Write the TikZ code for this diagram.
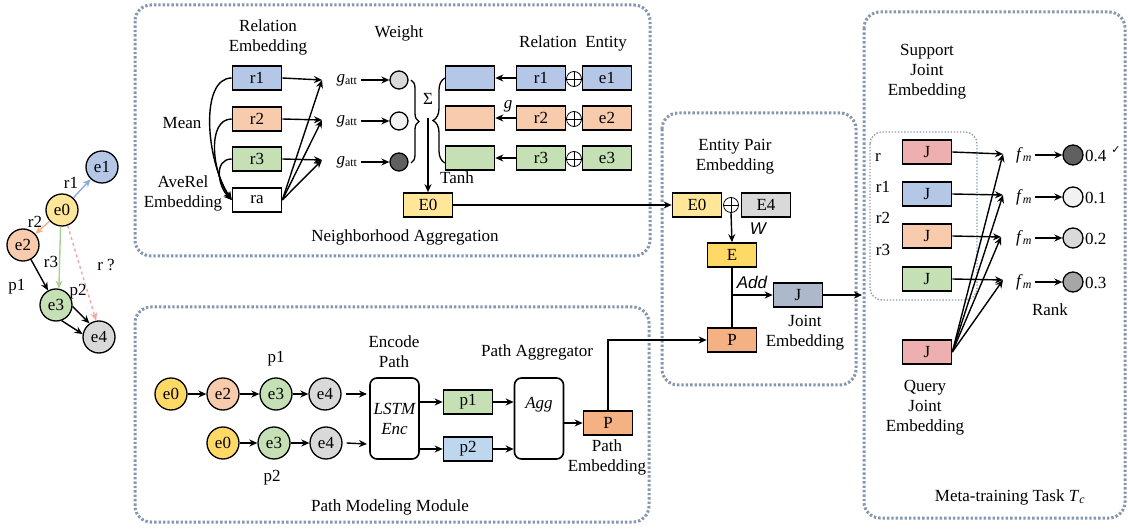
\documentclass[tikz,border=0pt]{standalone}
\usepackage{fontspec}
\setmainfont{Liberation Serif}
\newfontfamily\sansfam{Liberation Sans}
\newfontfamily\dejavu{DejaVu Sans}
\usetikzlibrary{arrows.meta,decorations.pathreplacing,calc}
\definecolor{dotc}{HTML}{8497B0}
\definecolor{cblue}{HTML}{B4C7E7}
\definecolor{corange}{HTML}{F8CBAD}
\definecolor{cgreen}{HTML}{C5E0B4}
\definecolor{cyellow}{HTML}{FFE699}
\definecolor{cgold}{HTML}{FFD966}
\definecolor{cgray}{HTML}{D9D9D9}
\definecolor{cpath}{HTML}{F4B183}
\definecolor{cjoint}{HTML}{ADB9CA}
\definecolor{cpink}{HTML}{EDAFAF}
\definecolor{cpblue}{HTML}{BDD7EE}
\definecolor{adark}{HTML}{606060}
\definecolor{amid}{HTML}{A6A6A6}
\definecolor{alight}{HTML}{F2F2F2}
\definecolor{lblue}{HTML}{8FAADC}
\definecolor{lorange}{HTML}{F4B183}
\definecolor{lgreen}{HTML}{A9D18E}
\definecolor{lpink}{HTML}{F4A6A6}
\newcommand{\gatt}{\textit{g}\textsubscript{att}}
\newcommand{\fmm}{\textit{f}\textsubscript{\textit{m}}}
\begin{document}
\begin{tikzpicture}[x=1pt,y=-1pt,
  every node/.style={font=\fontsize{17}{20}\selectfont},
  box/.style={draw, line width=1.6pt, minimum width=49pt, minimum height=24pt, inner sep=0pt},
  ent/.style={circle, draw, line width=1.3pt, minimum size=32pt, inner sep=0pt},
  wt/.style={circle, draw, line width=1.3pt, minimum size=18pt, inner sep=0pt},
  rk/.style={circle, draw, line width=1.3pt, minimum size=20pt, inner sep=0pt},
  rbox/.style={draw, line width=1.6pt, rounded corners=7pt, minimum width=49pt, minimum height=81pt, inner sep=0pt, align=center},
  arr/.style={-{Stealth[length=8pt,width=7pt]}, line width=1.4pt},
  region/.style={draw=dotc, line width=3pt, dash pattern=on 2.4pt off 2pt, rounded corners=16pt},
  txt/.style={align=center, inner sep=0pt},
  osym/.style={circle, draw, line width=0.8pt, minimum size=15pt, inner sep=0pt,
    path picture={\draw[line width=0.8pt] (path picture bounding box.north) -- (path picture bounding box.south)
      (path picture bounding box.west) -- (path picture bounding box.east);}},
  itsans/.style={inner sep=0pt, font=\fontsize{17}{20}\selectfont\sansfam\itshape},
]
\useasboundingbox (0,0) rectangle (1128,529);

% regions
\draw[region] (135,5) rectangle (650,256);
\draw[region] (135,307) rectangle (649,522);
\draw[region] (662,113) rectangle (856,385);
\draw[region] (864,12) rectangle (1125,518);
\draw[dotc, line width=1.4pt, dash pattern=on 1.3pt off 1.8pt, rounded corners=12pt] (870,132) rectangle (977,300);

% left graph
\node[ent, fill=cyellow] (g0) at (62,210) {e0};
\node[ent, fill=cblue] (g1) at (102,167) {e1};
\node[ent, fill=corange] (g2) at (23,245) {e2};
\node[ent, fill=cgreen] (g3) at (56,305) {e3};
\node[ent, fill=cgray] (g4) at (99,337) {e4};
\draw[arr, lblue] (g0) -- (g1);
\draw[arr, lorange] (g0) -- (g2);
\draw[arr, lgreen] (g0.265) -- (g3.80);
\draw[arr, lpink, dashed] (g0.-70) -- (g4.100);
\draw[arr] (g2) -- (g3);
\draw[arr] (g3.-5) -- (g4.125);
\draw[arr] (g3.-70) -- (g4.170);
\node[txt] (lr1) at (71,183) {r1};
\node[txt] (lr2) at (35,222) {r2};
\node[txt] (lr3) at (51,262) {r3};
\node[txt] (lp1) at (17,287) {p1};
\node[txt] (lp2) at (78,292) {p2};
\node[txt] (lrq) at (106,265) {r ?};

% neighborhood aggregation
\node[txt] (relemb) at (268,37) {Relation\\Embedding};
\node[box, fill=cblue] (r1) at (257,78) {r1};
\node[box, fill=corange] (r2) at (257,119) {r2};
\node[box, fill=cgreen] (r3) at (257,159) {r3};
\node[box, fill=white] (ra) at (257,200) {ra};
\node[txt] (mean) at (182,123) {Mean};
\node[txt] (avr) at (183,193) {AveRel\\Embedding};
\draw[arr] (r1.west) .. controls +(-32,0) and +(-26,-40) .. (ra.west);
\draw[arr] (r2.west) .. controls +(-25,0) and +(-20,-28) .. (ra.west);
\draw[arr] (r3.west) .. controls +(-18,0) and +(-14,-14) .. (ra.west);
\coordinate (t1) at (322,80);
\coordinate (t2) at (322,120);
\coordinate (t3) at (322,160);
\draw[arr] (r1.east) -- (t1);
\draw[arr] (r2.east) -- (t2);
\draw[arr] (r3.east) -- (t3);
\draw[arr] (ra.east) -- (t1);
\draw[arr] (ra.east) -- (t2);
\draw[arr] (ra.east) -- (t3);
\node (ga1) at (347,80) {\gatt};
\node (ga2) at (347,121) {\gatt};
\node (ga3) at (347,162) {\gatt};
\node[wt, fill=cgray] (w1) at (399,80) {};
\node[wt, fill=alight] (w2) at (399,121) {};
\node[wt, fill=adark] (w3) at (399,162) {};
\draw[arr] (ga1) -- (w1);
\draw[arr] (ga2) -- (w2);
\draw[arr] (ga3) -- (w3);
\node[txt] (weight) at (399,33) {Weight};
\draw[line width=1.3pt, decorate, decoration={brace, amplitude=8pt}] (411,80) -- (411,163);
\draw[line width=1.3pt, decorate, decoration={brace, amplitude=12pt}] (445,163) -- (445,78);
\node[txt] (sig) at (428,99) {Σ};
\coordinate (bt) at (428,118);
\node[box, fill=cyellow] (E0) at (428,205) {E0};
\draw[arr] (bt) -- (E0);
\node[txt] (tanh) at (457,178) {Tanh};
\node[box, fill=cblue] (c1) at (470,78) {};
\node[box, fill=corange] (c2) at (470,118) {};
\node[box, fill=cgreen] (c3) at (470,158) {};
\node[box, fill=cblue] (rr1) at (541,78) {r1};
\node[box, fill=corange] (rr2) at (541,118) {r2};
\node[box, fill=cgreen] (rr3) at (541,158) {r3};
\node[osym] (o1) at (574,79) {};
\node[osym] (o2) at (574,119) {};
\node[osym] (o3) at (574,159) {};
\node[box, fill=cblue] (ee1) at (607,78) {e1};
\node[box, fill=corange] (ee2) at (607,118) {e2};
\node[box, fill=cgreen] (ee3) at (607,158) {e3};
\draw[arr] (rr1) -- (c1);
\draw[arr] (rr2) -- (c2);
\draw[arr] (rr3) -- (c3);
\node[txt] (gg) at (508,106) {\textit{g}};
\node[txt] (relent) at (573,43) {Relation\ \ Entity};
\node[txt] (nagg) at (405,237) {Neighborhood Aggregation};

% entity pair
\node[txt] (eptitle) at (735,157) {Entity Pair\\Embedding};
\node[box, fill=cyellow] (pe0) at (697,205) {E0};
\node[osym] (po) at (731,205) {};
\node[box, fill=cgray] (pe4) at (766,205) {E4};
\draw[arr] (E0) -- (pe0);
\node[itsans] (wl) at (758,229) {W};
\node[box, fill=cgold] (EE) at (732,255) {E};
\draw[arr] (po.south) -- (EE.north);
\node[box, fill=cpath] (PP) at (732,340) {P};
\draw[line width=1.4pt] (EE.south) -- (PP.north);
\coordinate (br) at (732,295);
\node[box, fill=cjoint] (JJ) at (798,295) {J};
\draw[arr] (br) -- (JJ.west);
\coordinate (jout) at (862,295);
\draw[arr] (JJ.east) -- (jout);
\node[itsans] (add) at (752,282) {Add};
\node[txt] (jemb) at (805,333) {Joint\\Embedding};

% path modeling
\node[ent, fill=cgold] (a0) at (171,394) {e0};
\node[ent, fill=corange] (a2) at (223,394) {e2};
\node[ent, fill=cgreen] (a3) at (276,394) {e3};
\node[ent, fill=cgray] (a4) at (325,394) {e4};
\node[ent, fill=cgold] (b0) at (223,443) {e0};
\node[ent, fill=cgreen] (b3) at (274,443) {e3};
\node[ent, fill=cgray] (b4) at (326,443) {e4};
\draw[arr] (a0) -- (a2);
\draw[arr] (a2) -- (a3);
\draw[arr] (a3) -- (a4);
\draw[arr] (b0) -- (b3);
\draw[arr] (b3) -- (b4);
\node[txt] (pl1) at (276,359) {p1};
\node[txt] (pl2) at (272,478) {p2};
\node[rbox] (lstm) at (394.5,418.5) {\itshape LSTM\\\itshape Enc};
\node[txt] (encp) at (394,352) {Encode\\Path};
\coordinate (li1) at (367,394);
\coordinate (li2) at (367,444);
\draw[arr] ([xshift=4pt]a4.east) -- (li1);
\draw[arr] ([xshift=4pt]b4.east) -- (li2);
\node[box, fill=cgreen] (pp1) at (468,402) {p1};
\node[box, fill=cpblue] (pp2) at (468,449) {p2};
\draw[arr] (lstm.east |- pp1) -- (pp1);
\draw[arr] (lstm.east |- pp2) -- (pp2);
\node[rbox] (agg) at (539,418.5) {\itshape Agg\\[12pt]};
\draw[arr] (pp1) -- (pp1 -| agg.west);
\draw[arr] (pp2) -- (pp2 -| agg.west);
\node[txt] (pagg) at (537,352) {Path Aggregator};
\node[box, fill=cpath] (pathP) at (608,423) {P};
\draw[arr] (agg.east |- pathP) -- (pathP);
\node[txt] (pemb) at (607,457) {Path\\Embedding};
\draw[arr] (pathP.north) |- (PP.west);
\node[txt] (pmm) at (390,507) {Path Modeling Module};

% meta-training
\node[txt] (supp) at (927,72) {Support\\Joint\\Embedding};
\node[box, fill=cpink] (s1) at (927,152) {J};
\node[box, fill=cblue] (s2) at (927,194) {J};
\node[box, fill=corange] (s3) at (927,236) {J};
\node[box, fill=cgreen] (s4) at (927,279) {J};
\node[box, fill=cpink] (q) at (927,352) {J};
\node[txt] (sr) at (878,157) {r};
\node[txt] (sr1) at (883,187) {r1};
\node[txt] (sr2) at (883,218) {r2};
\node[txt] (sr3) at (883,250) {r3};
\coordinate (m1) at (1003,154);
\coordinate (m2) at (1003,195);
\coordinate (m3) at (1001,237);
\coordinate (m4) at (1003,280);
\draw[arr] (s1.east) -- (m1);
\draw[arr] (s2.east) -- (m2);
\draw[arr] (s3.east) -- (m3);
\draw[arr] (s4.east) -- (m4);
\draw[arr] (q.east) -- (m1);
\draw[arr] (q.east) -- (m2);
\draw[arr] (q.east) -- (m3);
\draw[arr] (q.east) -- (m4);
\node (f1) at (1024,155) {\fmm};
\node (f2) at (1024,197) {\fmm};
\node (f3) at (1024,238) {\fmm};
\node (f4) at (1024,282) {\fmm};
\node[rk, fill=adark] (k1) at (1073,155) {};
\node[rk, fill=alight] (k2) at (1073,197) {};
\node[rk, fill=cgray] (k3) at (1073,238) {};
\node[rk, fill=amid] (k4) at (1073,282) {};
\draw[arr] (f1) -- (k1);
\draw[arr] (f2) -- (k2);
\draw[arr] (f3) -- (k3);
\draw[arr] (f4) -- (k4);
\node[txt, anchor=west] (v1) at (1085,156) {0.4};
\node[txt, anchor=west] (v2) at (1085,198) {0.1};
\node[txt, anchor=west] (v3) at (1085,239) {0.2};
\node[txt, anchor=west] (v4) at (1085,283) {0.3};
\node[txt, font=\fontsize{11}{11}\selectfont\dejavu] (chk) at (1116,150) {✓};
\node[txt] (rank) at (1050,310) {Rank};
\node[txt] (qje) at (925,408) {Query\\Joint\\Embedding};
\node[txt] (mtt) at (1010,497) {Meta-training Task \textit{T}\textsubscript{\textit{c}}};
\end{tikzpicture}
\end{document}
